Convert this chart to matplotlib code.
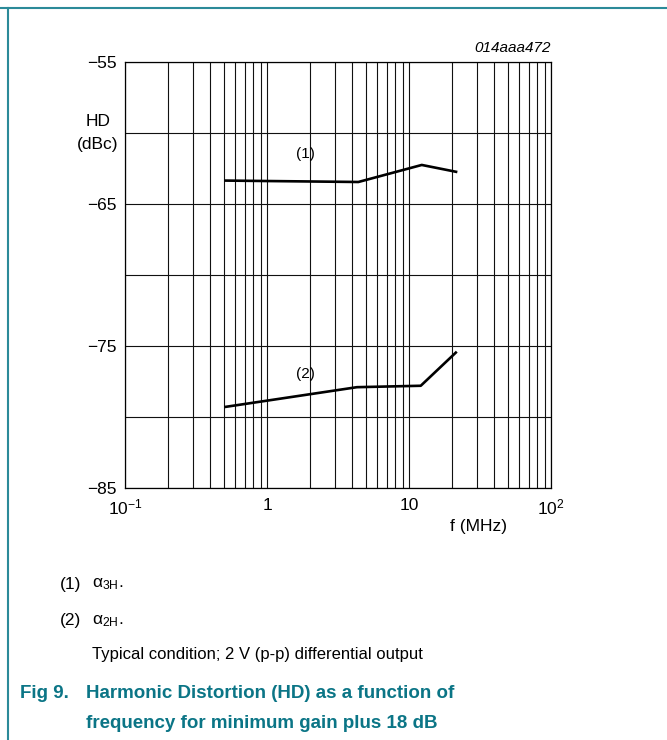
import matplotlib
matplotlib.use("Agg")
import matplotlib.pyplot as plt
import numpy as np
from matplotlib.ticker import LogLocator, FixedLocator, NullFormatter

plt.rcParams['font.family'] = ['Liberation Sans', 'DejaVu Sans']
plt.rcParams['mathtext.fontset'] = 'custom'
plt.rcParams['mathtext.rm'] = 'Liberation Sans'
plt.rcParams['mathtext.it'] = 'Liberation Sans:italic'

# curve (1) alpha 3H
f1 = [0.5, 4.4, 12.3, 21.9]
hd1 = [-63.35, -63.45, -62.25, -62.75]
# curve (2) alpha 2H
f2 = [0.5, 4.3, 12.1, 21.7]
hd2 = [-79.3, -77.9, -77.8, -75.4]

xticks = [0.1, 1, 10, 100]
xlabels = ['10$^{\u22121}$', '1', '10', '10$^{2}$']
yticks = [-85, -80, -75, -70, -65, -60, -55]
ylabels = ['\u221285', '', '\u221275', '', '\u221265', '', '\u221255']

teal = '#0b7586'
W, H = 667, 740

fig = plt.figure(figsize=(W/100, H/100), dpi=100)
ax = fig.add_axes([125/W, 1-488/H, 426/W, 426/H])

ax.plot(f1, hd1, color='black', lw=1.9, solid_capstyle='butt')
ax.plot(f2, hd2, color='black', lw=1.9, solid_capstyle='butt')

ax.set_xscale('log')
ax.set_xlim(0.1, 100)
ax.set_ylim(-85, -55)
ax.xaxis.set_major_locator(FixedLocator(xticks))
ax.set_xticklabels(xlabels)
ax.xaxis.set_minor_locator(LogLocator(base=10, subs=np.arange(2, 10)))
ax.xaxis.set_minor_formatter(NullFormatter())
ax.set_yticks(yticks)
ax.set_yticklabels(ylabels)
ax.tick_params(which='both', length=0, labelsize=12.5)
ax.tick_params(axis='x', pad=7)
ax.tick_params(axis='y', pad=6)
ax.grid(True, which='both', axis='x', color='#111111', lw=0.8)
ax.grid(True, which='major', axis='y', color='#111111', lw=0.8)
for s in ax.spines.values():
    s.set_linewidth(0.9)

ax.text(1.85, -61.5, '(1)', fontsize=11, ha='center', va='center')
ax.text(1.85, -77.0, '(2)', fontsize=11, ha='center', va='center')

def ftext(x, y, s, **kw):
    fig.text(x/W, 1-y/H, s, **kw)

ftext(551, 48, '014aaa472', ha='right', va='center', fontsize=11, style='italic')
ftext(98, 122, 'HD', ha='center', va='center', fontsize=12.5)
ftext(98, 145, '(dBc)', ha='center', va='center', fontsize=12.5)
ftext(478, 527, 'f (MHz)', ha='center', va='center', fontsize=12.5)

ftext(60, 584, '(1)', ha='left', va='center', fontsize=12.5)
ftext(92, 584, 'α$_{\\mathrm{3H}}$.', ha='left', va='center', fontsize=12.5)
ftext(60, 621, '(2)', ha='left', va='center', fontsize=12.5)
ftext(92, 621, 'α$_{\\mathrm{2H}}$.', ha='left', va='center', fontsize=12.5)
ftext(92, 654, 'Typical condition; 2 V (p-p) differential output', ha='left', va='center', fontsize=12)

ftext(20, 693, 'Fig 9.', ha='left', va='center', fontsize=13.5, weight='bold', color=teal)
ftext(86, 693, 'Harmonic Distortion (HD) as a function of', ha='left', va='center', fontsize=13.5, weight='bold', color=teal)
ftext(86, 723, 'frequency for minimum gain plus 18 dB', ha='left', va='center', fontsize=13.5, weight='bold', color=teal)

# page frame lines
fig.add_artist(plt.Line2D([0, 1], [1-8/H, 1-8/H], color='#2b8a99', lw=1.5))
fig.add_artist(plt.Line2D([7.5/W, 7.5/W], [0, 1-8/H], color='#2b8a99', lw=1.5))

fig.savefig('out.png', dpi=100)
